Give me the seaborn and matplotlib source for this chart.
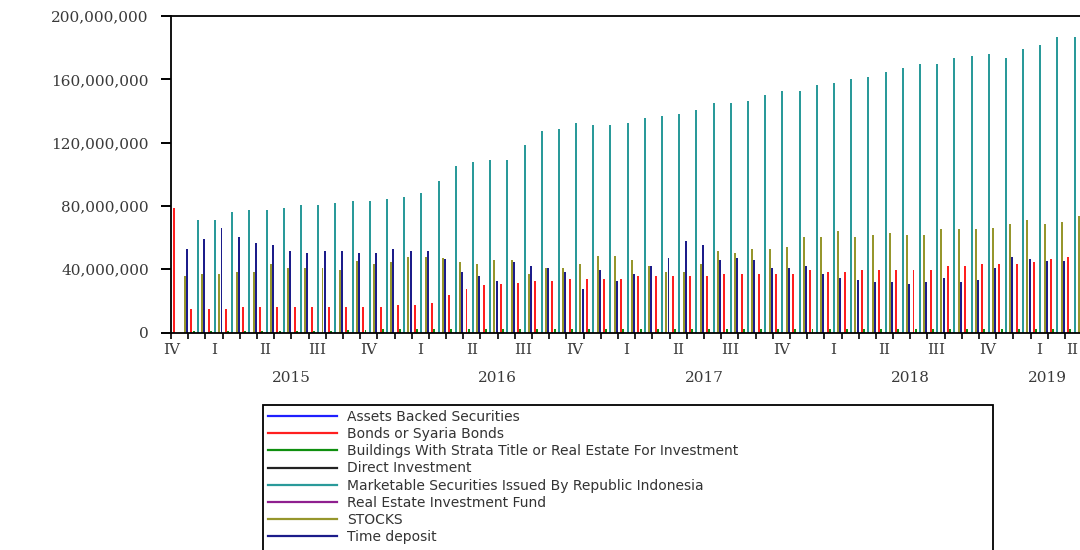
import numpy as np
import pandas as pd
import matplotlib
matplotlib.use("Agg")
import matplotlib.pyplot as plt
from matplotlib.lines import Line2D
from matplotlib.patches import Rectangle
from matplotlib.ticker import FuncFormatter
import seaborn as sns

# monthly, Dec 2014 - Apr 2019
months = pd.date_range("2014-12-01", "2019-04-01", freq="MS").strftime("%Y-%m").tolist()

series = ["Assets Backed Securities", "Bonds or Syaria Bonds",
          "Buildings With Strata Title or Real Estate For Investment",
          "Direct Investment", "Marketable Securities Issued By Republic Indonesia",
          "Real Estate Investment Fund", "STOCKS", "Time deposit"]
colors = ["#1f1fff", "#ff1f1f", "#0f8f0f", "#222222", "#2a9a9a",
          "#8f1f8f", "#96962c", "#1c1c8a"]

# values in millions
bonds = [78.9, 14.6, 14.6, 14.6, 15.9, 15.9, 15.9, 15.9, 15.9, 15.9,
         15.9, 15.9, 15.9, 17.2, 17.2, 18.5, 23.7, 27.5, 30.2, 30.4,
         31.5, 32.7, 32.7, 34.0, 34.0, 34.0, 34.0, 35.5, 35.5, 35.5,
         35.5, 35.5, 36.8, 36.8, 36.8, 36.8, 36.8, 39.5, 38.2, 38.2,
         39.5, 39.5, 39.5, 39.5, 39.5, 42.2, 42.2, 43.5, 43.5, 43.5,
         44.7, 46.2, 47.5]
marketable = [0.0, 71.1, 71.1, 76.4, 77.6, 77.6, 78.9, 80.4, 80.4, 81.6,
              82.9, 82.9, 84.2, 85.4, 88.2, 95.9, 105.2, 107.7, 109.2, 109.0,
              118.3, 127.5, 128.8, 132.6, 131.3, 131.3, 132.6, 135.4, 136.5, 138.1,
              140.6, 144.8, 144.8, 146.1, 149.9, 152.6, 152.6, 156.6, 157.8, 160.4,
              161.6, 164.4, 166.9, 169.7, 169.7, 173.5, 174.9, 176.2, 173.3, 179.0,
              181.5, 186.7, 186.7]
stocks = [35.5, 36.8, 36.8, 38.0, 38.0, 43.5, 40.8, 40.8, 40.8, 39.5,
          45.0, 43.3, 44.5, 47.5, 47.5, 47.3, 44.7, 43.5, 46.0, 46.0,
          36.8, 40.8, 40.8, 43.5, 48.5, 48.5, 46.0, 42.2, 38.2, 38.2,
          43.5, 51.3, 50.0, 52.6, 52.6, 53.8, 60.5, 60.5, 64.3, 60.5,
          61.8, 63.1, 61.8, 61.8, 65.6, 65.6, 65.6, 65.8, 68.4, 70.9,
          68.4, 69.6, 73.6]
time_deposit = [52.8, 59.3, 65.8, 60.6, 56.6, 55.3, 51.3, 50.0, 51.3, 51.3,
                50.0, 50.0, 52.6, 51.3, 51.3, 46.6, 38.0, 35.7, 32.7, 44.5,
                42.2, 40.8, 38.2, 27.7, 39.5, 32.7, 36.8, 42.2, 47.3, 57.8,
                55.3, 46.0, 47.3, 46.0, 40.8, 40.8, 42.2, 36.8, 34.2, 33.0,
                31.7, 31.7, 30.5, 31.7, 34.2, 31.7, 33.0, 40.9, 47.5, 46.2,
                45.0, 45.0, 45.0]
buildings = [0.0, 1.0, 1.0, 1.0, 1.0, 1.0, 1.0, 1.0, 1.0, 1.0,
             1.5, 1.5, 2.0, 2.0, 2.0, 2.0, 2.0, 2.0, 2.0, 2.0,
             2.0, 2.0, 2.0, 2.0, 2.2, 2.2, 2.2, 2.2, 2.2, 2.2,
             2.2, 2.2, 2.2, 2.2, 2.2, 2.2, 2.4, 2.4, 2.4, 2.4,
             2.4, 2.4, 2.4, 2.4, 2.4, 2.4, 2.4, 2.4, 2.5, 2.5,
             2.5, 2.5, 2.5]
# not visible in the chart
abs_sec = [0.0] * len(months)
direct = [0.0] * len(months)
reif = [0.0] * len(months)

quarter_labels = ["IV"] + ["I", "II", "III", "IV"] * 4 + ["I", "II"]
year_labels = ["2015", "2016", "2017", "2018", "2019"]

values = [abs_sec, bonds, buildings, direct, marketable, reif, stocks, time_deposit]
df = pd.concat([pd.DataFrame({"month": months, "series": s, "value": np.array(v) * 1e6})
                for s, v in zip(series, values)], ignore_index=True)

fig = plt.figure(figsize=(10.8, 5.5), dpi=100)
ax = fig.add_axes([171 / 1080, 217.5 / 550, 911.2 / 1080, 316.5 / 550])

sns.barplot(data=df, x="month", y="value", hue="series", order=months,
            hue_order=series, palette=colors, saturation=1, width=1.0, gap=0.08,
            linewidth=0, errorbar=None, legend=False, ax=ax)

ax.set_xlim(-0.5, len(months) - 0.5)
ax.set_ylim(0, 200e6)
ax.set_xlabel("")
ax.set_ylabel("")
ax.set_yticks(np.arange(0, 200e6 + 1, 40e6))
ax.yaxis.set_major_formatter(FuncFormatter(lambda v, p: f"{v:,.0f}"))
ax.set_xticks(np.arange(-0.5, len(months), 1))
ax.set_xticklabels([])
ax.tick_params(axis="y", length=7, width=1.4, pad=9, labelsize=11,
               labelcolor="#3a3a3a", labelfontfamily="DejaVu Serif")
ax.tick_params(axis="x", length=4, width=1.2)
for sp in ax.spines.values():
    sp.set_linewidth(1.3)
    sp.set_color("black")

tr = ax.get_xaxis_transform()
q_pos = [-0.46] + [2 + 3 * q for q in range(17)]
for x, lab in zip(q_pos, quarter_labels):
    ax.text(x, -0.055, lab, transform=tr, ha="center", va="center", fontsize=11,
            family="DejaVu Serif", color="#3a3a3a", clip_on=False)
# last quarter label sits at the right edge
ax.text(1078 / 1080, 1 - 350 / 550, quarter_labels[-1], transform=fig.transFigure,
        ha="right", va="center", fontsize=11, family="DejaVu Serif", color="#3a3a3a")
for x, lab in zip([6.5, 18.5, 30.5, 42.5, 50.5], year_labels):
    ax.text(x, -0.144, lab, transform=tr, ha="center", va="center", fontsize=11,
            family="DejaVu Serif", color="#3a3a3a", clip_on=False)

handles = [Line2D([0], [0], color=c, lw=1.6) for c in colors]
leg = fig.legend(handles, series, loc="upper left",
                 bbox_to_anchor=(263 / 1080, 0, 730 / 1080, 1 - 405 / 550),
                 bbox_transform=fig.transFigure, mode="expand", ncol=1,
                 fontsize=10, frameon=False, borderpad=0.35,
                 labelspacing=0.23, handlelength=5.0, handletextpad=0.7,
                 borderaxespad=0)
for t in leg.get_texts():
    t.set_color("#333333")
# legend box runs past the bottom edge of the picture
fig.patches.append(Rectangle((263 / 1080, -20 / 550), 730 / 1080, (145 + 20) / 550,
                             transform=fig.transFigure, fill=False,
                             edgecolor="black", linewidth=1.3))

fig.savefig("out.png", dpi=100)
